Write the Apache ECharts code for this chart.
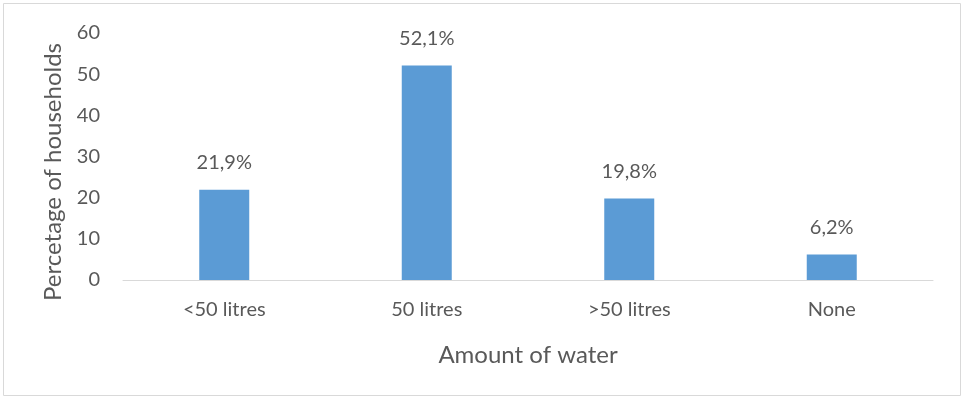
<!DOCTYPE html>
<html>
<head>
<meta charset="utf-8">
<script src="https://cdn.jsdelivr.net/npm/echarts@6/dist/echarts.min.js"></script>
<style>
  html, body { margin: 0; padding: 0; background: #fff; }
  #chart { width: 964px; height: 398px; }
</style>
</head>
<body>
<div id="chart"></div>
<script>
// Share of households by daily amount of water
const categories = ['<50 litres', '50 litres', '>50 litres', 'None'];
const shares = [21.9, 52.1, 19.8, 6.2];
const yTicks = [0, 10, 20, 30, 40, 50, 60];
const yTitle = 'Percetage of households';
const xTitle = 'Amount of water';

const textColor = '#595959';
const fontFamily = 'Lato, "Open Sans", sans-serif';

const chart = echarts.init(document.getElementById('chart'));
chart.setOption({
  animation: false,
  textStyle: { fontFamily: fontFamily },
  graphic: [{
    type: 'rect',
    shape: { x: 3.5, y: 3.5, width: 957, height: 392 },
    style: { fill: 'none', stroke: '#d9d9d9', lineWidth: 1 },
    silent: true
  }, {
    // vertical axis title, set slightly below the plot's centre
    type: 'text',
    x: 53,
    y: 172,
    rotation: Math.PI / 2,
    style: {
      text: yTitle,
      fill: textColor,
      font: '24px ' + fontFamily,
      align: 'center',
      verticalAlign: 'middle'
    },
    silent: true
  }],
  grid: { left: 123, right: 31, top: 33, bottom: 118 },
  xAxis: {
    type: 'category',
    data: categories,
    name: xTitle,
    nameLocation: 'middle',
    nameGap: 63,
    nameTextStyle: { color: textColor, fontSize: 24, fontFamily: fontFamily },
    axisLine: { lineStyle: { color: '#d9d9d9', width: 1 } },
    axisTick: { show: false },
    axisLabel: { color: textColor, fontSize: 20, margin: 20, fontFamily: fontFamily }
  },
  yAxis: {
    type: 'value',
    min: yTicks[0],
    max: yTicks[yTicks.length - 1],
    interval: 10,
    axisLine: { show: false },
    axisTick: { show: false },
    splitLine: { show: false },
    axisLabel: { color: textColor, fontSize: 20, margin: 23, fontFamily: fontFamily }
  },
  series: [{
    type: 'bar',
    data: shares,
    barWidth: 50,
    itemStyle: { color: '#5B9BD5' },
    label: {
      show: true,
      position: 'top',
      distance: 17,
      color: textColor,
      fontSize: 20,
      fontFamily: fontFamily,
      formatter: p => p.value.toFixed(1).replace('.', ',') + '%'
    }
  }]
});
</script>
</body>
</html>
